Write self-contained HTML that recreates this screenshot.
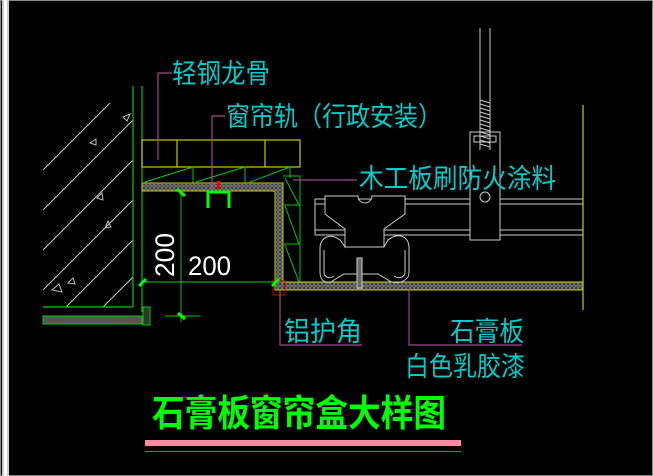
<!DOCTYPE html>
<html><head><meta charset="utf-8"><style>
html,body{margin:0;padding:0;background:#000;}
svg{display:block;}
text{font-family:"Liberation Sans","WenQuanYi Zen Hei","Noto Sans CJK SC",sans-serif;}
</style></head><body>
<svg width="653" height="476" viewBox="0 0 653 476" xmlns="http://www.w3.org/2000/svg">
<defs>
<pattern id="gyp" width="4" height="4" patternUnits="userSpaceOnUse">
<rect width="4" height="4" fill="#333"/>
<circle cx="2" cy="2" r="1.3" fill="none" stroke="#aaa" stroke-width="0.7"/>
</pattern>
<clipPath id="wall"><rect x="43" y="103" width="90" height="204"/></clipPath>
</defs>
<rect width="653" height="476" fill="#000"/>
<!-- frame -->
<rect x="0.5" y="0.5" width="652" height="475" fill="none" stroke="#888" stroke-width="1"/>
<rect x="2" y="0" width="7" height="476" fill="#ccc"/>
<rect x="4" y="0" width="3" height="476" fill="#fff"/>

<!-- wall hatch -->
<g clip-path="url(#wall)" stroke="#ccc" stroke-width="1">
<line x1="43" y1="170" x2="120" y2="93"/>
<line x1="43" y1="210" x2="150" y2="103"/>
<line x1="43" y1="250" x2="150" y2="143"/>
<line x1="43" y1="290" x2="150" y2="183"/>
<line x1="43" y1="330" x2="150" y2="223"/>
<line x1="70" y1="340" x2="150" y2="260"/>
<line x1="105" y1="340" x2="150" y2="295"/>
</g>
<g fill="none" stroke="#bbb" stroke-width="1">
<path d="M123,117 l7,-3 l-3,7z"/><path d="M90,143 l6,-4 l0,6z"/><path d="M97,198 l5,-5 l1,7z"/>
<path d="M105,228 l3,-7 l3,6z"/><path d="M52,290 l7,-6 l3,8z"/><path d="M68,283 l5,-5 l2,6z"/>
</g>
<g stroke="#0c0" stroke-width="1.2" fill="none">
<line x1="133" y1="86" x2="133" y2="307"/>
<line x1="142" y1="86" x2="142" y2="312"/>
<line x1="43" y1="307" x2="133" y2="307"/>
</g>
<rect x="43" y="316" width="99" height="8" fill="#555" stroke="#0c0" stroke-width="1"/>
<rect x="143" y="307" width="7" height="18" fill="#333" stroke="#0c0" stroke-width="1"/>

<!-- light steel keel yellow -->
<g stroke="#cc0" stroke-width="1.2" fill="none">
<rect x="142" y="140" width="158" height="27"/>
<line x1="177" y1="140" x2="177" y2="167"/>
<line x1="265" y1="140" x2="265" y2="167"/>
</g>
<!-- wood (green) -->
<g stroke="#0c0" stroke-width="1" fill="none">
<line x1="142" y1="167" x2="142" y2="183"/>
<line x1="193" y1="167" x2="193" y2="183"/>
<line x1="245" y1="167" x2="245" y2="183"/>
<line x1="290" y1="167" x2="290" y2="178"/>
<line x1="145" y1="182" x2="193" y2="167"/>
<line x1="196" y1="182" x2="245" y2="167"/>
<line x1="250" y1="182" x2="290" y2="167"/>
<path d="M283,176 H300 V283"/>
<line x1="284" y1="205" x2="300" y2="205"/>
<line x1="284" y1="244" x2="300" y2="244"/>
<line x1="285" y1="178" x2="299" y2="205"/>
<line x1="285" y1="206" x2="299" y2="244"/>
<line x1="285" y1="245" x2="299" y2="282"/>
</g>
<!-- gypsum board -->
<path d="M142,183 H283 V282 H583 V290 H275 V191 H142 Z" fill="url(#gyp)" stroke="#cc0" stroke-width="1"/>
<rect x="273" y="281" width="12" height="14" fill="none" stroke="#c00" stroke-width="1"/>

<!-- dimensions -->
<g stroke="#0c0" stroke-width="1" fill="none">
<line x1="181" y1="190" x2="181" y2="322"/>
<line x1="142" y1="282" x2="275" y2="282"/>
<line x1="165" y1="316" x2="200" y2="316"/>
</g>
<g stroke="#0f0" stroke-width="3">
<line x1="177" y1="189" x2="185" y2="196"/>
<line x1="139" y1="286" x2="146" y2="279"/>
<line x1="272" y1="286" x2="279" y2="279"/>
<line x1="178" y1="313" x2="185" y2="319"/>
</g>
<text x="0" y="0" transform="translate(174,277) rotate(-90)" fill="#fff" font-size="27" textLength="44" lengthAdjust="spacingAndGlyphs">200</text>
<text x="188" y="275" fill="#fff" font-size="27" textLength="43" lengthAdjust="spacingAndGlyphs">200</text>

<!-- curtain rail -->
<path d="M208,208 V192 H229 V208" fill="none" stroke="#0f0" stroke-width="3"/>
<rect x="217" y="181" width="3" height="8" fill="#f00"/>

<!-- hanger & rails (right) -->
<g stroke="#ccc" stroke-width="1" fill="none">
<line x1="480" y1="28" x2="480" y2="150"/>
<line x1="490" y1="28" x2="490" y2="150"/>
<path d="M480,100 l10,3 M480,104 l10,3 M480,108 l10,3 M480,112 l10,3 M480,116 l10,3 M480,120 l10,3 M480,124 l10,3 M480,128 l10,3 M480,132 l10,3 M480,136 l10,3 M480,140 l10,3 M480,144 l10,3"/>
<rect x="470" y="132" width="30" height="108"/>
<rect x="474" y="136" width="22" height="6"/>
<circle cx="485" cy="197" r="5"/>
<line x1="315" y1="199" x2="470" y2="199"/><line x1="500" y1="199" x2="583" y2="199"/>
<line x1="315" y1="204" x2="470" y2="204"/><line x1="500" y1="204" x2="583" y2="204"/>
<line x1="315" y1="230" x2="470" y2="230"/><line x1="500" y1="230" x2="583" y2="230"/>
<line x1="315" y1="235" x2="470" y2="235"/><line x1="500" y1="235" x2="583" y2="235"/>
<line x1="315" y1="199" x2="315" y2="235"/>
<path d="M325,196 H358 A7,7 0 0 0 372,196 H405 V214 L384,229 V247 H345 V229 L325,214 Z" fill="#000"/>
<path d="M345,235 V247 L340,240 C330,232 320,238 320,248 V272 C320,282 328,285 334,280 L344,274 H378 L388,280 C394,285 409,283 409,272 V248 C409,236 398,232 388,240 L384,247"/>
<path d="M324,250 V272 C324,278 330,279 334,276 M405,250 V272 C405,278 398,279 394,276"/>
<rect x="357" y="258" width="5" height="30" fill="#666"/>
</g>
<line x1="583" y1="105" x2="583" y2="310" stroke="#cc0" stroke-width="1.2"/>

<!-- leaders -->
<g stroke="#a04a8a" stroke-width="1.2" fill="none">
<path d="M172,73 H158 V160"/>
<path d="M225,116 H212 V190"/>
<path d="M293,180 H357"/>
<path d="M280,290 V345 H362"/>
<path d="M409,290 V345 H522"/>
</g>

<!-- labels -->
<g fill="#0cc" font-size="27">
<text x="172" y="83" textLength="98" lengthAdjust="spacingAndGlyphs">轻钢龙骨</text>
<text x="226" y="126" textLength="216" lengthAdjust="spacingAndGlyphs">窗帘轨（行政安装）</text>
<text x="359" y="188" textLength="197" lengthAdjust="spacingAndGlyphs">木工板刷防火涂料</text>
<text x="284" y="341" textLength="78" lengthAdjust="spacingAndGlyphs">铝护角</text>
<text x="450" y="341" textLength="74" lengthAdjust="spacingAndGlyphs">石膏板</text>
<text x="405" y="376" textLength="120" lengthAdjust="spacingAndGlyphs">白色乳胶漆</text>
</g>
<text x="152" y="426" fill="#0f0" font-size="37" font-weight="bold" textLength="294" lengthAdjust="spacingAndGlyphs">石膏板窗帘盒大样图</text>
<rect x="145" y="440" width="316" height="6" fill="#ff8aa0"/>
<line x1="145" y1="451.5" x2="461" y2="451.5" stroke="#b05060" stroke-width="1"/>
</svg>
</body></html>
